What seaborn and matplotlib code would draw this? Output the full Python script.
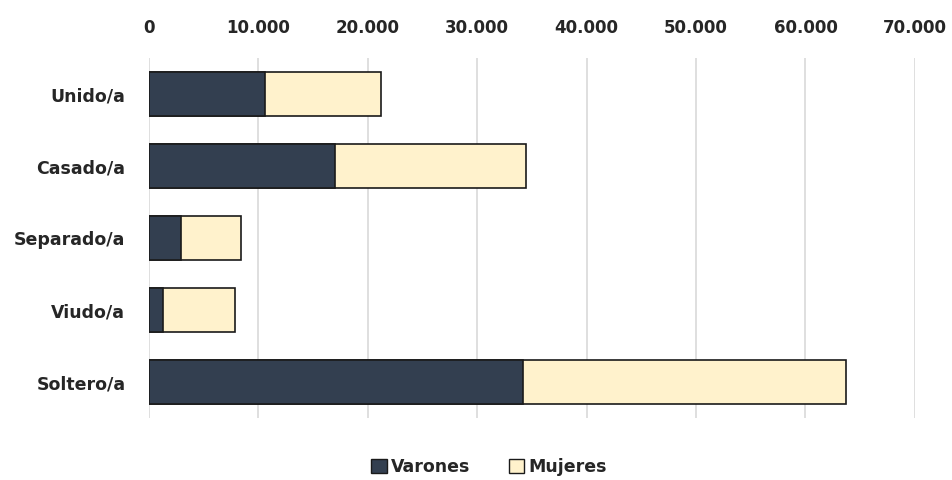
import matplotlib
matplotlib.use("Agg")
import matplotlib.pyplot as plt
from matplotlib.patches import Patch
from matplotlib.ticker import FuncFormatter
import seaborn as sns
import pandas as pd

categorias = ["Unido/a", "Casado/a", "Separado/a", "Viudo/a", "Soltero/a"]
varones = [10600, 17000, 2900, 1250, 34200]
mujeres = [10600, 17500, 5500, 6600, 29500]

color_varones = "#333F50"
color_mujeres = "#FFF2CC"

sns.set_theme(style="white")
plt.rcParams["font.family"] = ["DejaVu Sans"]

df = pd.DataFrame({
    "estado": categorias,
    "varones": varones,
    "total": [v + m for v, m in zip(varones, mujeres)],
})

fig = plt.figure(figsize=(9.52, 4.8), dpi=100)
ax = fig.add_axes([0.1565, 0.129, 0.961 - 0.1565, 0.879 - 0.129])

# stacked bars: full total in light colour, men drawn over it from zero
sns.barplot(data=df, x="total", y="estado", order=categorias, color=color_mujeres,
            edgecolor="#1a1a1a", linewidth=1.2, width=0.61, ax=ax, saturation=1)
sns.barplot(data=df, x="varones", y="estado", order=categorias, color=color_varones,
            edgecolor="#1a1a1a", linewidth=1.2, width=0.61, ax=ax, saturation=1)

ax.set_xlim(0, 70000)
ax.set_ylim(4.5, -0.5)
ax.set_xticks(range(0, 70001, 10000))
ax.xaxis.set_major_formatter(FuncFormatter(lambda v, p: f"{int(v):,}".replace(",", ".")))
ax.xaxis.tick_top()
ax.tick_params(axis="x", length=0, pad=15, labelsize=12, colors="#262626")
ax.tick_params(axis="y", length=0, pad=17, labelsize=12.5, colors="#262626")
for lab in ax.get_xticklabels() + ax.get_yticklabels():
    lab.set_fontweight("bold")
ax.set_xlabel("")
ax.set_ylabel("")
ax.grid(axis="x", color="#D9D9D9", linewidth=1.2)
ax.set_axisbelow(True)
for s in ax.spines.values():
    s.set_visible(False)

handles = [
    Patch(facecolor=color_varones, edgecolor="#1a1a1a", label="Varones"),
    Patch(facecolor=color_mujeres, edgecolor="#1a1a1a", label="Mujeres"),
]
fig.legend(handles=handles, loc="center", bbox_to_anchor=(0.514, 0.027), ncol=2,
           frameon=False, handlelength=0.9, handleheight=0.9, handletextpad=0.25,
           columnspacing=2.2, prop={"size": 12.5, "weight": "bold"}, labelcolor="#262626")

fig.savefig("out.png", dpi=100)
